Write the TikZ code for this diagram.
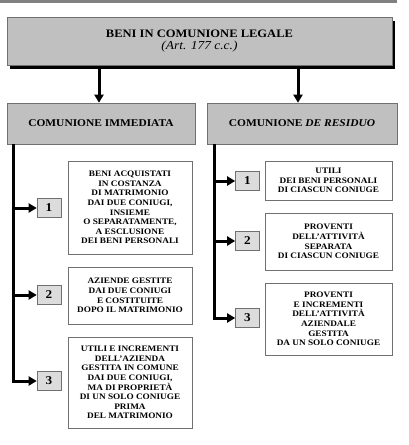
\documentclass[tikz,border=0pt]{standalone}
\usepackage{fontspec}
\setmainfont[FakeStretch=1.1]{Liberation Serif}
\usetikzlibrary{arrows.meta,shadows}
\definecolor{boxgray}{HTML}{C0C0C0}
\definecolor{numgray}{HTML}{DCDCDC}
\definecolor{edgegray}{HTML}{707070}
\definecolor{bargray}{HTML}{808080}
\tikzset{
  mainbox/.style={draw=edgegray, line width=0.6pt, fill=boxgray, inner sep=0pt, align=center,
    general shadow={fill=black, shadow xshift=3pt, shadow yshift=-4pt}},
  headbox/.style={draw=edgegray, line width=0.6pt, fill=boxgray, inner sep=0pt, align=center,
    font=\fontsize{10.4}{12}\selectfont\bfseries},
  contbox/.style={draw=edgegray, line width=0.6pt, fill=white, inner sep=0pt, align=center,
    font=\fontsize{8.4}{9.6}\selectfont\bfseries},
  numbox/.style={draw=edgegray, line width=0.6pt, fill=numgray, inner sep=0pt,
    minimum width=24pt, minimum height=19pt, font=\fontsize{12}{13}\selectfont\bfseries},
  arr/.style={line width=3pt, -{Triangle[width=9pt,length=8pt]}},
}
\begin{document}
\begin{tikzpicture}[x=1pt,y=-1pt]
\useasboundingbox (0,0) rectangle (408,445);
\fill[bargray] (0,0) rectangle (397,3);
% main box
\node[mainbox, minimum width=385pt, minimum height=48pt] (main) at (199.5,41)
  {{\fontsize{11.4}{15}\selectfont\bfseries BENI IN COMUNIONE LEGALE}\\
   {\fontsize{12.2}{15}\selectfont\itshape (Art. 177 c.c.)}};
% headers
\node[headbox, minimum width=188pt, minimum height=41pt] (cl) at (101,123.5) {COMUNIONE IMMEDIATA};
\node[headbox, minimum width=190pt, minimum height=41pt] (cr) at (302,123.5) {COMUNIONE \textit{DE RESIDUO}};
\draw[arr] (99,69) coordinate (al) -- (al |- cl.north);
\draw[arr] (298,69) coordinate (ar) -- (ar |- cr.north);
% left column
\node[contbox, minimum width=124pt, minimum height=93pt] (l1) at (130,207.5)
  {BENI ACQUISTATI\\IN COSTANZA\\DI MATRIMONIO\\DAI DUE CONIUGI,\\INSIEME\\O SEPARATAMENTE,\\A ESCLUSIONE\\DEI BENI PERSONALI};
\node[contbox, minimum width=124pt, minimum height=57pt] (l2) at (130,295.5)
  {AZIENDE GESTITE\\DAI DUE CONIUGI\\E COSTITUITE\\DOPO IL MATRIMONIO};
\node[contbox, minimum width=124pt, minimum height=91pt] (l3) at (130,382.5)
  {UTILI E INCREMENTI\\DELL'AZIENDA\\GESTITA IN COMUNE\\DAI DUE CONIUGI,\\MA DI PROPRIETÀ\\DI UN SOLO CONIUGE\\PRIMA\\DEL MATRIMONIO};
\node[numbox] (n1) at (49,208) {1};
\node[numbox] (n2) at (49,295) {2};
\node[numbox] (n3) at (49,381) {3};
\coordinate (lt) at (13,144);
\draw[arr] (lt) |- (n3.west);
\draw[arr] (lt |- n1) -- (n1.west);
\draw[arr] (lt |- n2) -- (n2.west);
% right column
\node[contbox, minimum width=127pt, minimum height=39pt] (r1) at (328.5,180.5)
  {UTILI\\DEI BENI PERSONALI\\DI CIASCUN CONIUGE};
\node[contbox, minimum width=127pt, minimum height=57pt] (r2) at (328.5,241.5)
  {PROVENTI\\DELL'ATTIVITÀ\\SEPARATA\\DI CIASCUN CONIUGE};
\node[contbox, minimum width=127pt, minimum height=72pt] (r3) at (328.5,319)
  {PROVENTI\\E INCREMENTI\\DELL'ATTIVITÀ\\AZIENDALE\\GESTITA\\DA UN SOLO CONIUGE};
\node[numbox] (m1) at (247.5,181) {1};
\node[numbox] (m2) at (247.5,241) {2};
\node[numbox] (m3) at (247.5,318) {3};
\coordinate (rt) at (214,144);
\draw[arr] (rt) |- (m3.west);
\draw[arr] (rt |- m1) -- (m1.west);
\draw[arr] (rt |- m2) -- (m2.west);
\end{tikzpicture}
\end{document}
